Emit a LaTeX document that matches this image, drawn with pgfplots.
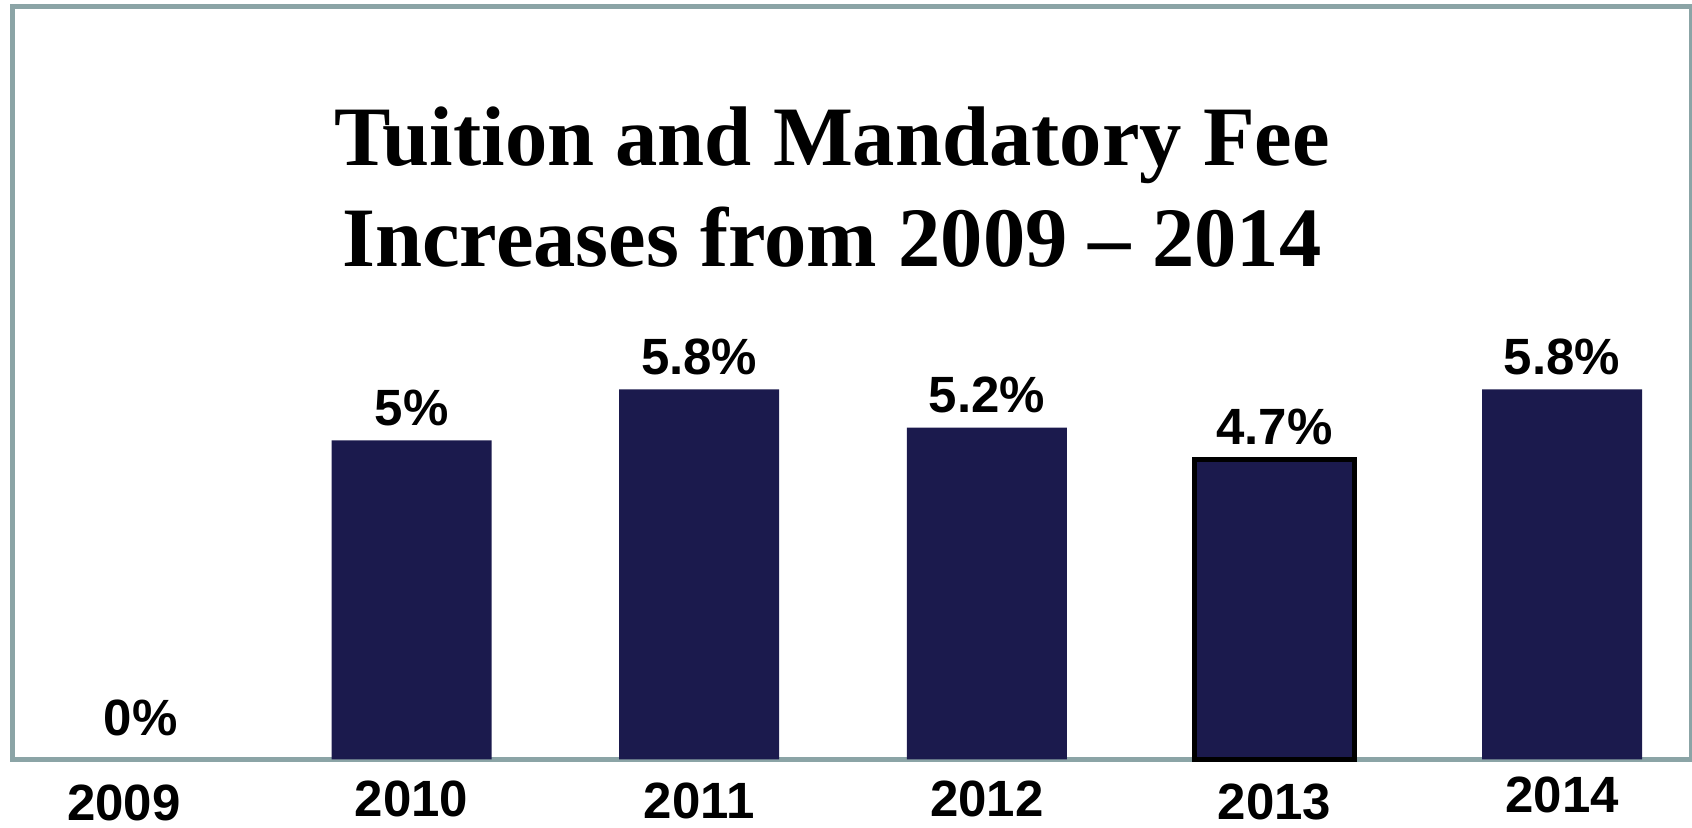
\documentclass[border=0pt]{standalone}
\usepackage{fontspec}
\setmainfont{Liberation Serif}
\newfontfamily\labelfont{Liberation Sans}
\usepackage{pgfplots}
\pgfplotsset{compat=1.18}

\definecolor{barnavy}{RGB}{27,26,77}
\definecolor{framegray}{RGB}{139,164,166}

\pgfplotsset{
  pctlabel/.style={
    nodes near coords={\pgfmathprintnumber{\pgfplotspointmeta}\%},
    every node near coord/.append style={
      font=\labelfont\bfseries\fontsize{25.5}{30}\selectfont,
      text=black, anchor=base, inner sep=0pt, yshift=7.5pt},
  },
  navybar/.style={ybar, bar width=80pt, bar shift=0pt, fill=barnavy},
}

\begin{document}
\begin{tikzpicture}
\useasboundingbox (-6.25pt,-34.25pt) rectangle (839.75pt,379.75pt);
\begin{axis}[
  at={(0,0)}, anchor=south west,
  scale only axis,
  width=839.25pt, height=376.25pt,
  xmin=-0.3871, xmax=5.4481,
  ymin=0, ymax=11.795,
  clip=false,
  axis line style={draw=framegray, line width=2.5pt},
  xtick={0,1,2,3,4,5},
  xticklabels={2009,\raisebox{1.8pt}{2010},\raisebox{1.2pt}{2011},
               \raisebox{1.8pt}{2012},\raisebox{0.6pt}{2013},\raisebox{4pt}{2014}},
  ytick=\empty,
  major tick length=0pt,
  xticklabel style={font=\labelfont\bfseries\fontsize{25.5}{30}\selectfont,
                    anchor=base, inner sep=0pt, yshift=-30.5pt},
  /pgf/number format/assume math mode=true,
]

% increases, per cent
\addplot[navybar, draw=none, pctlabel] coordinates {
  (1,5.0) (2,5.8) (3,5.2) (5,5.8)
};
% 2013 bar has a black outline
\addplot[navybar, draw=black, line width=2.4pt, pctlabel] coordinates {
  (4,4.7)
};
% 2009: no increase
\addplot[draw=none, mark=none, nodes near coords={0\%},
  every node near coord/.append style={
    font=\labelfont\bfseries\fontsize{25.5}{30}\selectfont,
    text=black, anchor=base, inner sep=0pt, xshift=8.5pt, yshift=11.75pt}]
  coordinates {(0,0)};

\node[font=\bfseries\fontsize{42.3}{50}\selectfont, anchor=base]
  at (rel axis cs:0.48824,0.78870) {Tuition and Mandatory Fee};
\node[font=\bfseries\fontsize{42.3}{50}\selectfont, anchor=base]
  at (rel axis cs:0.48824,0.65449) {Increases from 2009 – 2014};
\end{axis}
\end{tikzpicture}
\end{document}
